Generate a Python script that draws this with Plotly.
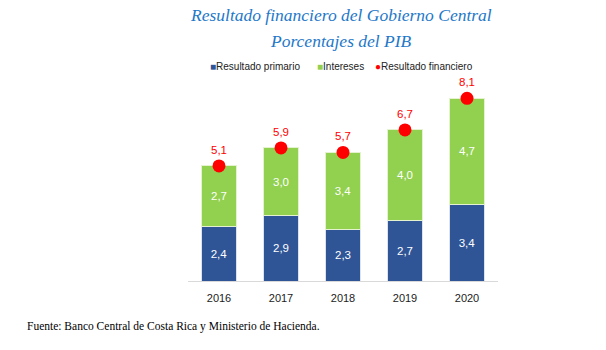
import plotly.graph_objects as go

years = ["2016", "2017", "2018", "2019", "2020"]
primario = [2.4, 2.9, 2.3, 2.7, 3.4]
intereses = [2.7, 3.0, 3.4, 4.0, 4.7]
financiero = [5.1, 5.9, 5.7, 6.7, 8.1]

def fmt(v):
    return f"{v:.1f}".replace(".", ",")

BLUE = "#2F5597"
GREEN = "#92D050"
RED = "#FF0000"
SANS = "Liberation Sans, Arial"
TITLE_COLOR = "#1E78C8"

fig = go.Figure()
fig.add_trace(go.Bar(
    x=years, y=primario, name="Resultado primario",
    marker=dict(color=BLUE, line=dict(color="#DDE3EE", width=1)),
    text=[fmt(v) for v in primario], textposition="inside",
    insidetextanchor="middle",
    textfont=dict(color="white", size=11.5, family=SANS),
    width=0.58,
))
fig.add_trace(go.Bar(
    x=years, y=intereses, name="Intereses",
    marker=dict(color=GREEN, line=dict(color="#E4F2D0", width=1)),
    text=[fmt(v) for v in intereses], textposition="inside",
    insidetextanchor="middle",
    textfont=dict(color="white", size=11.5, family=SANS),
    width=0.58,
))
fig.add_trace(go.Scatter(
    x=years, y=financiero, name="Resultado financiero",
    mode="markers+text",
    marker=dict(color=RED, size=13),
    text=[fmt(v) for v in financiero], textposition="top center",
    textfont=dict(color=RED, size=11.5, family=SANS),
))

fig.update_layout(
    barmode="stack",
    width=606, height=350,
    margin=dict(l=188, r=108, t=78, b=69),
    paper_bgcolor="white", plot_bgcolor="white",
    showlegend=False,
)
fig.update_xaxes(
    showline=True, linecolor="#D9D9D9", linewidth=1,
    tickfont=dict(family=SANS, size=11, color="#222222"),
    ticks="", range=[-0.5, 4.5], ticklabelstandoff=7,
)
fig.update_yaxes(range=[0, 9], visible=False, showgrid=False)

def px_x(px):
    return (px - 188) / 310

def px_y(py):
    return (281 - py) / 203

# title lines
for line, cy in [("Resultado financiero del Gobierno Central", 15),
                 ("Porcentajes del PIB", 41)]:
    fig.add_annotation(
        text=f"<i>{line}</i>", xref="paper", yref="paper",
        x=px_x(341), y=px_y(cy), xanchor="center", yanchor="middle",
        showarrow=False,
        font=dict(family="Liberation Serif", size=17.5, color=TITLE_COLOR),
    )

# legend drawn as text entries
legend_items = [
    ("■", BLUE, "Resultado primario", 208),
    ("■", GREEN, "Intereses", 315),
    ("●", RED, "Resultado financiero", 373),
]
for sym, col, label, px in legend_items:
    fig.add_annotation(
        text=f"<span style='color:{col}'>{sym}</span>{label}",
        xref="paper", yref="paper", x=px_x(px), y=px_y(67),
        xanchor="left", yanchor="middle", showarrow=False,
        font=dict(family=SANS, size=10, color="#222222"),
    )

fig.add_annotation(
    text="Fuente: Banco Central de Costa Rica y Ministerio de Hacienda.",
    xref="paper", yref="paper", x=px_x(25), y=px_y(326),
    xanchor="left", yanchor="middle", showarrow=False,
    font=dict(family="Liberation Serif", size=11.5, color="black"),
)

fig.write_html("out.html")
